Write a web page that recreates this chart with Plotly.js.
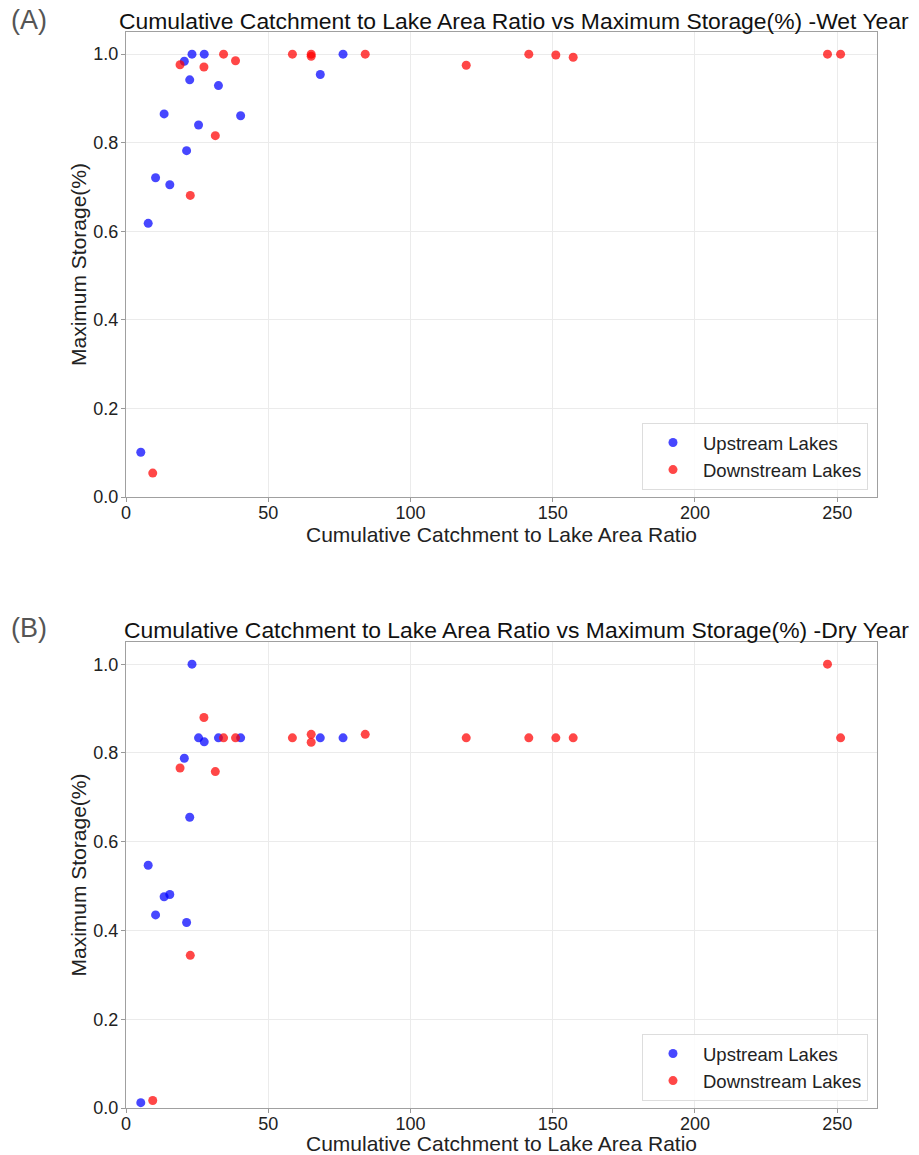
<!DOCTYPE html>
<html>
<head>
<meta charset="utf-8">
<script src="https://cdn.plot.ly/plotly-3.0.1.min.js"></script>
<style>
  html, body { margin: 0; padding: 0; background: #ffffff; }
  #chart { width: 919px; height: 1155px; }
</style>
</head>
<body>
<div id="chart"></div>
<script>
// ---- Data ----
// Cumulative catchment to lake area ratio of each lake
var upstreamRatio   = [5.2, 7.8, 10.4, 13.4, 15.4, 20.5, 21.3, 22.4, 23.2, 25.5, 27.5, 32.5, 40.3, 68.3, 76.3];
var downstreamRatio = [9.4, 19.0, 22.6, 27.4, 31.4, 34.3, 38.5, 58.5, 65.1, 65.1, 84.1, 119.6, 141.6, 151.1, 157.2, 246.6, 251.2];

// Maximum storage (%) - wet year
var upstreamWet   = [0.101, 0.618, 0.721, 0.865, 0.705, 0.984, 0.782, 0.942, 1.0, 0.840, 1.0, 0.929, 0.861, 0.954, 1.0];
var downstreamWet = [0.054, 0.976, 0.681, 0.971, 0.816, 1.0, 0.985, 1.0, 1.0, 0.995, 1.0, 0.975, 1.0, 0.998, 0.993, 1.0, 1.0];

// Maximum storage (%) - dry year
var upstreamDry   = [0.012, 0.547, 0.435, 0.476, 0.481, 0.788, 0.418, 0.655, 1.0, 0.834, 0.825, 0.834, 0.834, 0.834, 0.834];
var downstreamDry = [0.017, 0.766, 0.344, 0.880, 0.758, 0.834, 0.834, 0.834, 0.842, 0.824, 0.842, 0.834, 0.834, 0.834, 0.834, 1.0, 0.834];

var xTicks = [0, 50, 100, 150, 200, 250];
var yTicks = [0, 0.2, 0.4, 0.6, 0.8, 1.0];
var seriesNames = ['Upstream Lakes', 'Downstream Lakes'];
var panelLabels = ['(A)', '(B)'];
var panelTitles = [
  'Cumulative Catchment to Lake Area Ratio vs Maximum Storage(%) -Wet Year',
  'Cumulative Catchment to Lake Area Ratio vs Maximum Storage(%) -Dry Year'
];
var xTitle = 'Cumulative Catchment to Lake Area Ratio';
var yTitle = 'Maximum Storage(%)';

// ---- Styles ----
var FONT = 'Liberation Sans, Arial, sans-serif';
var BLUE = 'rgba(0,0,255,0.72)';
var RED  = 'rgba(255,0,0,0.72)';
var W = 919, H = 1155;

function px(x) { return x / W; }
function py(y) { return 1 - y / H; }

var traces = [
  { x: upstreamRatio, y: upstreamWet, name: seriesNames[0], type: 'scatter', mode: 'markers',
    marker: { color: BLUE, size: 9 }, xaxis: 'x', yaxis: 'y', legend: 'legend' },
  { x: downstreamRatio, y: downstreamWet, name: seriesNames[1], type: 'scatter', mode: 'markers',
    marker: { color: RED, size: 9 }, xaxis: 'x', yaxis: 'y', legend: 'legend' },
  { x: upstreamRatio, y: upstreamDry, name: seriesNames[0], type: 'scatter', mode: 'markers',
    marker: { color: BLUE, size: 9 }, xaxis: 'x2', yaxis: 'y2', legend: 'legend2' },
  { x: downstreamRatio, y: downstreamDry, name: seriesNames[1], type: 'scatter', mode: 'markers',
    marker: { color: RED, size: 9 }, xaxis: 'x2', yaxis: 'y2', legend: 'legend2' }
];

function xAxis(anchor) {
  return {
    domain: [px(126), px(877)], anchor: anchor, range: [0, 264],
    tickvals: xTicks, ticks: 'outside', ticklen: 4, tickcolor: '#999',
    ticklabelstandoff: -5,
    showline: true, mirror: true, linecolor: '#a0a0a0', linewidth: 1.2,
    showgrid: true, gridcolor: '#ebebeb', gridwidth: 1, zeroline: false,
    tickfont: { family: FONT, size: 18, color: '#222' },
    title: { text: xTitle, font: { family: FONT, size: 21, color: '#222' }, standoff: 0 },
    automargin: false
  };
}
function yAxis(anchor, dom) {
  return {
    domain: dom, anchor: anchor, range: [0, 1.05],
    tickvals: yTicks, tickformat: '.1f', ticks: 'outside', ticklen: 4, tickcolor: '#999',
    ticklabelstandoff: -1,
    showline: true, mirror: true, linecolor: '#a0a0a0', linewidth: 1.2,
    showgrid: true, gridcolor: '#ebebeb', gridwidth: 1, zeroline: false,
    tickfont: { family: FONT, size: 18, color: '#222' },
    title: { text: yTitle, font: { family: FONT, size: 21, color: '#222' }, standoff: 0 },
    automargin: false
  };
}

function legendAt(yBottomPx) {
  return {
    x: px(868), y: py(yBottomPx), xanchor: 'right', yanchor: 'bottom',
    bgcolor: 'rgba(255,255,255,0.85)', bordercolor: '#dddddd', borderwidth: 1,
    font: { family: FONT, size: 18.5, color: '#222' },
    itemwidth: 50, tracegroupgap: 0
  };
}

var layout = {
  width: W, height: H,
  margin: { l: 0, r: 0, t: 0, b: 0 },
  paper_bgcolor: '#ffffff', plot_bgcolor: '#ffffff',
  showlegend: true,
  xaxis: xAxis('y'),
  yaxis: yAxis('x', [py(497), py(32)]),
  xaxis2: xAxis('y2'),
  yaxis2: yAxis('x2', [py(1108), py(642)]),
  legend: legendAt(490),
  legend2: legendAt(1101),
  annotations: [
    { text: panelLabels[0], xref: 'paper', yref: 'paper', x: px(29), y: py(20), showarrow: false,
      xanchor: 'center', yanchor: 'middle', font: { family: FONT, size: 27, color: '#555' } },
    { text: panelLabels[1], xref: 'paper', yref: 'paper', x: px(29), y: py(628), showarrow: false,
      xanchor: 'center', yanchor: 'middle', font: { family: FONT, size: 27, color: '#555' } },
    { text: panelTitles[0], xref: 'paper', yref: 'paper', x: px(514), y: py(21), showarrow: false,
      xanchor: 'center', yanchor: 'middle', font: { family: FONT, size: 22.9, color: '#111' } },
    { text: panelTitles[1], xref: 'paper', yref: 'paper', x: px(516), y: py(630), showarrow: false,
      xanchor: 'center', yanchor: 'middle', font: { family: FONT, size: 22.9, color: '#111' } }
  ]
};

Plotly.newPlot('chart', traces, layout, { displayModeBar: false, staticPlot: true });
</script>
</body>
</html>
